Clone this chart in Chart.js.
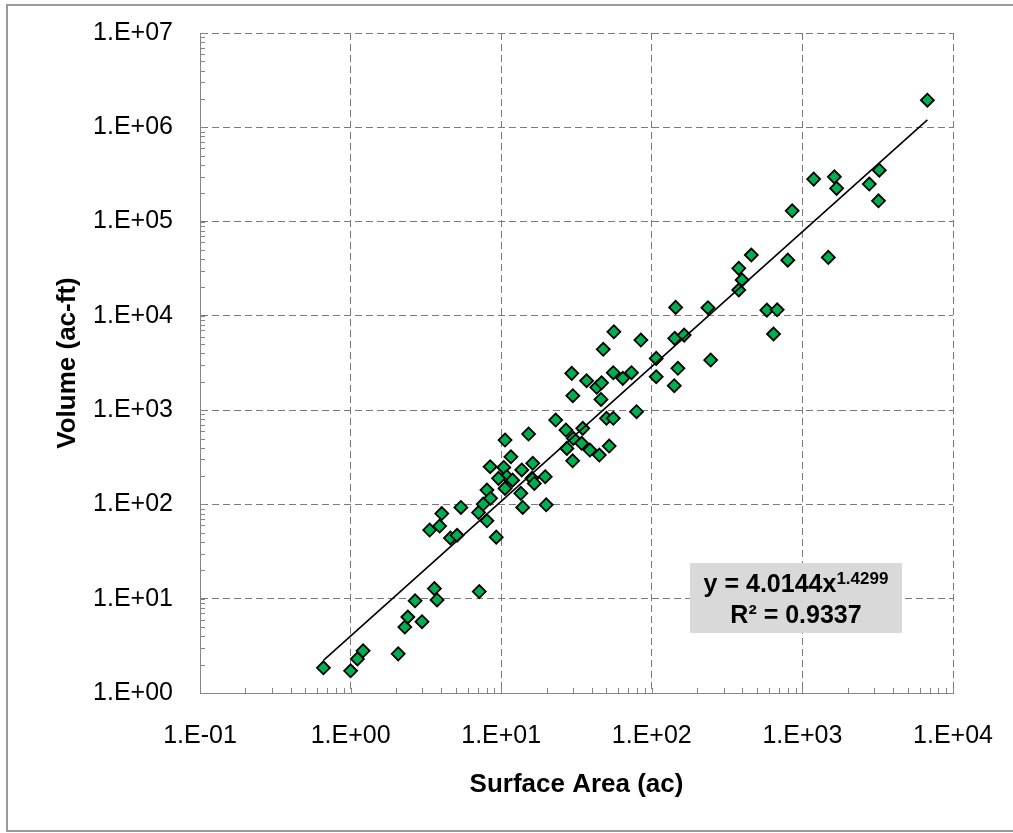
<!DOCTYPE html>
<html lang="en">
<head>
    <meta charset="UTF-8">
    <title>Volume vs Surface Area</title>
    <script src="https://cdn.jsdelivr.net/npm/chart.js"></script>
    <style>
        html, body { margin: 0; padding: 0; background: #fff; }
        canvas { display: block; }
    </style>
</head>
<body>
    <canvas id="volumeChart" width="1013" height="833"></canvas>

    <script>
        // Surface area (ac) and volume (ac-ft)
        const surfaceArea = [
            0.66, 1.0, 1.11, 1.21, 2.07, 2.29, 2.4, 2.98, 2.68, 3.6, 3.75, 7.15,
            3.35, 3.9, 4.03, 5.4, 4.6, 5.09, 7.07, 7.6, 8.04, 8.5, 8.04, 9.27,
            8.45, 10.6, 11.6, 10.4, 10.9, 9.6, 11.9, 10.6, 13.7, 15.2, 16.2, 16.0,
            16.6, 13.5, 13.9, 19.9, 19.6, 23, 26.9, 30.1, 27.3, 29.8, 34.8, 34.2,
            38.8, 44.8, 52.1, 29.4, 29.9, 36.9, 43.1, 46.4, 46, 47.6, 56, 55.5,
            64.2, 73.3, 50, 55.5, 79.2, 84.6, 107, 107,
            144, 142, 164, 149, 141, 236, 246, 378, 398, 378, 458, 581,
            680, 643, 800, 855, 1486, 1188, 1630, 1687, 2780, 3240, 3200, 6760
        ];
        const volume = [
            1.85, 1.72, 2.3, 2.8, 2.6, 5.0, 6.4, 5.7, 9.5, 12.8, 9.7, 11.9,
            53.5, 59, 80, 93, 44, 47, 82, 101, 142, 116, 67, 45,
            251, 482, 320, 247, 197, 189, 181, 148, 232, 558, 273, 189,
            167, 131, 93, 99, 197, 785, 615, 502, 393, 290, 641, 445,
            377, 334, 416, 2455, 1422, 2050, 1745, 1950, 1300, 4416, 6776, 2495,
            2173, 2495, 819, 819, 962, 5540, 3540, 2260,
            12300, 5770, 6250, 2775, 1815, 12200, 3400, 31900, 24000, 18800, 44200, 11500,
            11600, 6420, 39000, 130000, 41700, 282000, 298000, 225000, 250000, 351000, 166000, 1940000
        ];

        // Power trendline, its two ends as drawn
        const trendX = [0.66, 6760];
        const trendY = [2.22, 1200000];

        const xTickValues = [0.1, 1, 10, 100, 1000, 10000];
        const xTickLabels = ['1.E-01', '1.E+00', '1.E+01', '1.E+02', '1.E+03', '1.E+04'];
        const yTickValues = [1, 10, 100, 1000, 10000, 100000, 1000000, 10000000];
        const yTickLabels = ['1.E+00', '1.E+01', '1.E+02', '1.E+03', '1.E+04', '1.E+05', '1.E+06', '1.E+07'];

        const eqLine = 'y = 4.0144x';
        const eqPower = '1.4299';
        const r2Line = 'R² = 0.9337';

        const FONT = "'Liberation Sans', Arial, sans-serif";
        const AXIS_GRAY = '#868686';
        const GRID_GRAY = '#7a7a7a';

        // white page + outer frame
        const framePlugin = {
            id: 'frame',
            beforeDraw(chart) {
                const ctx = chart.ctx;
                ctx.save();
                ctx.fillStyle = '#fff';
                ctx.fillRect(0, 0, chart.width, chart.height);
                ctx.strokeStyle = '#999';
                ctx.lineWidth = 2;
                ctx.strokeRect(7, 5, chart.width + 20, 826);
                ctx.restore();
            }
        };

        // little log ticks inside the plot, along both axes
        const minorTicksPlugin = {
            id: 'minorTicks',
            beforeDatasetsDraw(chart) {
                const ctx = chart.ctx;
                const xs = chart.scales.x, ys = chart.scales.y;
                const area = chart.chartArea;
                ctx.save();
                ctx.strokeStyle = AXIS_GRAY;
                ctx.lineWidth = 1;
                ctx.beginPath();
                for (let e = -1; e < 4; e++) {
                    for (let k = 1; k <= 10; k++) {
                        const px = Math.round(xs.getPixelForValue(k * Math.pow(10, e))) + 0.5;
                        ctx.moveTo(px, area.bottom);
                        ctx.lineTo(px, area.bottom - 5);
                    }
                }
                for (let e = 0; e < 7; e++) {
                    for (let k = 1; k <= 10; k++) {
                        const py = Math.round(ys.getPixelForValue(k * Math.pow(10, e))) + 0.5;
                        ctx.moveTo(area.left, py);
                        ctx.lineTo(area.left + 5, py);
                    }
                }
                ctx.stroke();
                ctx.restore();
            }
        };

        // fitted equation box
        const equationPlugin = {
            id: 'equation',
            afterDraw(chart) {
                const ctx = chart.ctx;
                const bx = 690, by = 563, bw = 212, bh = 70;
                const cx = bx + bw / 2;
                ctx.save();
                ctx.fillStyle = '#d9d9d9';
                ctx.fillRect(bx, by, bw, bh);
                ctx.fillStyle = '#000';
                ctx.textBaseline = 'alphabetic';
                ctx.textAlign = 'left';
                ctx.font = 'bold 25px ' + FONT;
                const w1 = ctx.measureText(eqLine).width;
                ctx.font = 'bold 17px ' + FONT;
                const w2 = ctx.measureText(eqPower).width;
                let x0 = cx - (w1 + w2) / 2;
                ctx.font = 'bold 25px ' + FONT;
                ctx.fillText(eqLine, x0, by + 29);
                ctx.font = 'bold 17px ' + FONT;
                ctx.fillText(eqPower, x0 + w1, by + 21);
                ctx.font = 'bold 25px ' + FONT;
                ctx.textAlign = 'center';
                ctx.fillText(r2Line, cx, by + 60);
                ctx.restore();
            }
        };

        const points = surfaceArea.map((x, i) => ({ x: x, y: volume[i] }));
        const trend = trendX.map((x, i) => ({ x: x, y: trendY[i] }));

        new Chart(document.getElementById('volumeChart').getContext('2d'), {
            type: 'scatter',
            data: {
                datasets: [
                    {
                        label: 'Power trend',
                        data: trend,
                        showLine: true,
                        borderColor: '#000',
                        borderWidth: 1.6,
                        pointRadius: 0,
                        fill: false
                    },
                    {
                        label: 'Reservoirs',
                        data: points,
                        pointStyle: 'rectRot',
                        pointRadius: 6.5,
                        backgroundColor: '#00b050',
                        borderColor: '#000',
                        borderWidth: 1.8
                    }
                ]
            },
            options: {
                responsive: false,
                animation: false,
                devicePixelRatio: 1,
                layout: { padding: { left: 0, right: 60, top: 33, bottom: 0 } },
                plugins: {
                    legend: { display: false },
                    tooltip: { enabled: false }
                },
                scales: {
                    x: {
                        type: 'logarithmic',
                        min: 0.1,
                        max: 10000,
                        afterBuildTicks: s => { s.ticks = xTickValues.map(v => ({ value: v })); },
                        // fixed axis band; label overhang is covered by the layout padding
                        afterFit: s => { s.height = 140; s.paddingLeft = 0; s.paddingRight = 0; },
                        grid: { color: GRID_GRAY, lineWidth: 1, drawTicks: false },
                        border: { display: true, color: AXIS_GRAY, width: 1, dash: [7, 4] },
                        ticks: {
                            autoSkip: false,
                            maxRotation: 0,
                            padding: 28,
                            color: '#000',
                            font: { family: FONT, size: 25 },
                            callback: (v, i) => xTickLabels[i]
                        },
                        title: {
                            display: true,
                            text: 'Surface Area (ac)',
                            color: '#000',
                            font: { family: FONT, size: 26, weight: 'bold' },
                            padding: { top: 0, bottom: 33 }
                        }
                    },
                    y: {
                        type: 'logarithmic',
                        min: 1,
                        max: 10000000,
                        afterBuildTicks: s => { s.ticks = yTickValues.map(v => ({ value: v })); },
                        afterFit: s => { s.width = 200; s.paddingTop = 0; s.paddingBottom = 0; },
                        grid: { color: GRID_GRAY, lineWidth: 1, drawTicks: false },
                        border: { display: true, color: AXIS_GRAY, width: 1, dash: [7, 4] },
                        ticks: {
                            autoSkip: false,
                            padding: 27,
                            color: '#000',
                            font: { family: FONT, size: 25 },
                            callback: (v, i) => yTickLabels[i]
                        },
                        title: {
                            display: true,
                            text: 'Volume (ac-ft)',
                            color: '#000',
                            font: { family: FONT, size: 26, weight: 'bold' },
                            padding: { top: 52, bottom: 0 }
                        }
                    }
                }
            },
            plugins: [framePlugin, minorTicksPlugin, equationPlugin]
        });
    </script>
</body>
</html>
